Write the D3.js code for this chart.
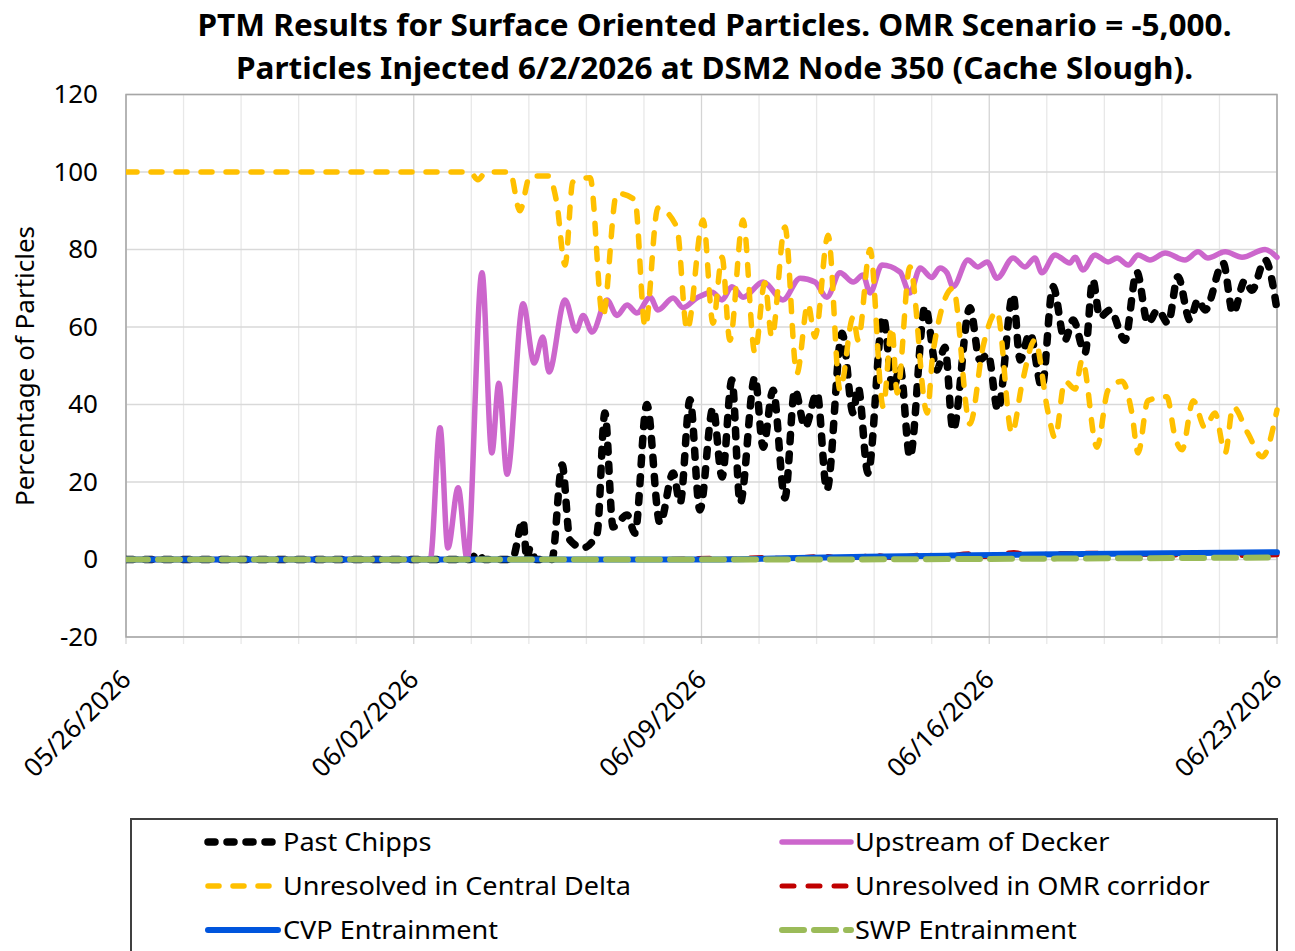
<!DOCTYPE html>
<html>
<head>
<meta charset="utf-8">
<script src="https://cdn.jsdelivr.net/npm/d3@7"></script>
<style>
  html, body { margin: 0; padding: 0; background: #fff; }
  svg { display: block; }
  text { font-family: "Noto Sans", "Open Sans", sans-serif; fill: #000; }
</style>
</head>
<body>
<svg id="chart" width="1295" height="951"></svg>
<script>
// ---------------- DATA ----------------
const titleLines = [
  "PTM Results for Surface Oriented Particles. OMR Scenario = -5,000.",
  "Particles Injected 6/2/2026 at DSM2 Node 350 (Cache Slough)."
];
const yAxisTitle = "Percentage of Particles";
const startDate = "2026-05-26";
const endDate = "2026-06-23";
const xTickLabels = ["05/26/2026", "06/02/2026", "06/09/2026", "06/16/2026", "06/23/2026"];
const yTicks = [-20, 0, 20, 40, 60, 80, 100, 120];
const seriesNames = ["Past Chipps", "Upstream of Decker", "Unresolved in Central Delta",
                     "Unresolved in OMR corridor", "CVP Entrainment", "SWP Entrainment"];

// [days since 05/26/2026 00:00, percentage of particles]
const pastChipps = [
  [0,0],[8.37,0],[8.56,1.7],[8.71,0],[9.39,0],[9.66,10],[9.75,0],[9.83,3],[9.97,0],[10.36,0],
  [10.61,24.4],[10.80,5],[11.12,3],[11.46,6.8],[11.65,37.8],[11.85,8.4],[12.19,11.5],[12.38,6.8],
  [12.67,40],[12.99,9.4],[13.31,22.3],[13.48,14.6],[13.72,41.2],[13.96,12.8],[14.28,39],[14.50,21.3],
  [14.74,46.3],[14.94,14.6],[15.30,47],[15.50,29],[15.74,43.7],[16.03,15.9],[16.27,43.7],[16.52,34.2],
  [16.81,43],[17.05,18],[17.42,58.4],[17.69,37.8],[17.81,44.5],[18.05,22.3],[18.42,62.6],[18.66,43.7],
  [18.83,49.7],[19.07,26.5],[19.44,65.2],[19.73,48.9],[19.92,54.8],[20.12,33.4],[20.53,65],[20.77,51.5],
  [20.97,53],[21.21,38.6],[21.58,68.3],[21.75,51.5],[21.99,58.4],[22.28,44.5],[22.55,70.4],[22.84,56.6],
  [23.04,61.8],[23.33,53.3],[23.52,72.1],[23.69,62.6],[23.94,64.4],[24.30,56.6],[24.59,74.2],[24.86,61],
  [25.10,64.4],[25.35,61],[25.59,73],[25.88,61.8],[26.08,67],[26.25,64.4],[26.69,76.5],[26.93,63.6],
  [27.22,72],[27.39,69.5],[27.71,77.3],[28.00,64.4]
];
const upstreamDecker = [
  [0,0],[7.40,0],[7.64,34],[7.83,3],[8.08,18.5],[8.30,0],[8.66,74],[8.90,27.5],[9.07,45.5],[9.27,22],
  [9.66,66],[9.93,50.7],[10.14,57.4],[10.29,48.4],[10.68,67],[10.95,59],[11.12,63],[11.34,58.7],
  [11.70,67],[11.94,63],[12.19,65.7],[12.43,63.6],[12.75,67.7],[12.94,64.4],[13.31,67.5],[13.55,65],
  [13.89,67.5],[14.26,69],[14.50,67],[14.74,70.4],[15.01,67.7],[15.50,71.6],[15.98,67],[16.40,72.6],
  [16.76,71.6],[17.05,67.7],[17.37,74],[17.69,71.6],[17.93,73.4],[18.10,68.8],[18.39,76],[18.83,74.2],
  [19.07,68.8],[19.32,75.2],[19.60,72.8],[19.80,75.2],[19.97,74],[20.12,70.4],[20.48,77.3],[20.72,75.5],
  [20.95,76.8],[21.19,72.6],[21.58,77.8],
  [21.87,75.5],[22.11,77.8],[22.28,74],[22.60,78.6],[22.96,76.5],[23.09,78],[23.28,74.7],[23.57,78.6],
  [23.89,76.8],[24.11,77.8],[24.38,76],[24.62,78.6],[24.91,77.3],[25.28,79.1],[25.76,77.3],[26.08,79.4],
  [26.32,77.8],[26.74,79.4],[27.15,78],[27.71,80],[28.00,78]
];
const centralDelta = [
  [0,100],[8.37,100],[8.56,98],[8.76,100],[9.34,100],[9.58,90],[9.83,99],[10.27,99],[10.48,92],
  [10.68,76],[10.87,97.4],[11.29,98.5],[11.60,62.6],[11.94,94.5],[12.38,92.8],[12.63,60],[12.94,90.7],
  [13.40,85.8],[13.65,59.2],[14.04,87.6],[14.28,61],[14.50,78],[14.69,56.6],[15.01,87.6],[15.30,53.3],
  [15.54,71.4],[15.71,57.4],[16.03,85.8],[16.32,48],[16.59,66],[16.76,57.4],[17.08,83.7],[17.37,43.7],
  [17.69,62.6],[17.81,56.6],[18.10,80],[18.42,39.4],[18.63,60],[18.76,43],[19.07,75.5],[19.49,37.8],
  [19.63,53.3],[20.12,70],[20.53,35],[20.85,55],[21.19,64],[21.55,32.6],[21.80,45.5],[22.11,56.6],
  [22.43,38],[22.60,31.4],[22.84,46],[23.09,44],[23.26,51.5],[23.62,29],[23.89,43.7],[24.23,46],
  [24.47,37.8],[24.62,27.5],[24.86,41],[25.32,42],[25.52,31.6],[25.69,28.3],[25.96,41],[26.25,34],
  [26.49,37.8],[26.74,27.5],[26.93,39.4],[27.29,32.6],[27.64,26.5],[28.00,38.6]
];
const omrCorridor = [
  [0,0],[13.0,0],[14.2,0.3],[14.5,0],[15.5,0.5],[16.0,0.2],[17.0,0.8],[17.4,0.3],[18.3,1.0],[18.6,0.5],
  [19.5,1.2],[19.8,0.6],[20.5,1.5],[20.9,0.8],[21.6,1.8],[22.0,1.0],[22.6,1.5],[23.5,1.6],[25.0,1.3],
  [26.5,1.0],[28.0,1.2]
];
const cvpEntrainment = [
  [0,0],[14,0],[16,0.3],[18,0.7],[20,1.0],[22,1.3],[24,1.5],[26,1.7],[28,1.9]
];
const swpEntrainment = [
  [0,0],[16,0],[20,0.1],[24,0.3],[28,0.5]
];

// ---------------- LAYOUT ----------------
const svg = d3.select("#chart");
svg.append("rect").attr("width", 1295).attr("height", 951).attr("fill", "#fff");

const plot = {left: 126, right: 1277, top: 94.5, bottom: 637};
const t0 = new Date(startDate + "T00:00:00");
const t1 = new Date(endDate + "T00:00:00");
const toDate = d => new Date(t0.getTime() + d * 86400000);

const x = d3.scaleTime().domain([t0, t1]).range([plot.left, plot.right]);
const y = d3.scaleLinear().domain([-20, 120]).range([plot.bottom, plot.top]);

// vertical gridlines every 1.4 days (20 intervals)
const vGrid = d3.range(0, 21).map(i => toDate(i * 1.4));
svg.append("g").selectAll("line").data(vGrid).join("line")
  .attr("x1", d => x(d)).attr("x2", d => x(d))
  .attr("y1", plot.top).attr("y2", plot.bottom + 7)
  .attr("stroke", (d, i) => i % 5 === 0 ? "#d4d4d4" : "#e8e8e8")
  .attr("stroke-width", 1.3);

// horizontal gridlines
svg.append("g").selectAll("line").data(yTicks).join("line")
  .attr("x1", plot.left).attr("x2", plot.right)
  .attr("y1", d => y(d)).attr("y2", d => y(d))
  .attr("stroke", "#d9d9d9").attr("stroke-width", 1.5);

// plot border
svg.append("rect")
  .attr("x", plot.left).attr("y", plot.top)
  .attr("width", plot.right - plot.left).attr("height", plot.bottom - plot.top)
  .attr("fill", "none").attr("stroke", "#a6a6a6").attr("stroke-width", 1.5);

// y axis
const yAxis = d3.axisLeft(y).tickValues(yTicks).tickSize(0).tickPadding(28).tickFormat(d => String(d));
const gy = svg.append("g").attr("transform", `translate(${plot.left},0)`).call(yAxis);
gy.select(".domain").remove();
gy.selectAll("text").style("font-size", "26px").style("font-family", '"Noto Sans", sans-serif').attr("fill", "#000");

// x axis labels
const xTickDates = xTickLabels.map(s => { const [m, d, yy] = s.split("/"); return new Date(`${yy}-${m}-${d}T00:00:00`); });
const xAxis = d3.axisBottom(x).tickValues(xTickDates).tickSize(0).tickFormat(d3.timeFormat("%m/%d/%Y"));
const gx = svg.append("g").attr("transform", `translate(0,${plot.bottom})`).call(xAxis);
gx.select(".domain").remove();
gx.selectAll("text")
  .style("font-size", "26px").style("font-family", '"Noto Sans", sans-serif').attr("fill", "#000")
  .attr("text-anchor", "end")
  .attr("dx", null).attr("dy", null).attr("y", null)
  .attr("transform", "translate(6,44) rotate(-45)");

// ---------------- SERIES ----------------
const line = d3.line()
  .x(d => x(toDate(d[0])))
  .y(d => y(d[1]))
  .curve(d3.curveMonotoneX);

const styles = [
  {data: pastChipps, color: "#000000", width: 7.5, dash: "7,12", cap: "round"},
  {data: upstreamDecker, color: "#CC66CC", width: 5.5, dash: null, cap: "round"},
  {data: centralDelta, color: "#FFC000", width: 5.5, dash: "11,14", cap: "round"},
  {data: omrCorridor, color: "#C00000", width: 5, dash: "12,14", cap: "round"},
  {data: cvpEntrainment, color: "#0055DD", width: 6, dash: null, cap: "round"},
  {data: swpEntrainment, color: "#9BBB59", width: 6, dash: "22,10", cap: "round"}
];

svg.append("clipPath").attr("id", "plotclip").append("rect")
  .attr("x", plot.left).attr("y", plot.top - 5)
  .attr("width", plot.right - plot.left + 4).attr("height", plot.bottom - plot.top + 5);

const gSeries = svg.append("g").attr("clip-path", "url(#plotclip)");
styles.forEach(s => {
  gSeries.append("path")
    .attr("d", line(s.data))
    .attr("fill", "none")
    .attr("stroke", s.color)
    .attr("stroke-width", s.width)
    .attr("stroke-dasharray", s.dash)
    .attr("stroke-linecap", s.cap)
    .attr("stroke-linejoin", "round");
});

// ---------------- TITLE ----------------
const titleTargetWidth = 1034;
const titleProbe = svg.append("text").style("font-size", "30px").style("font-weight", "bold")
  .attr("visibility", "hidden").text(titleLines[0]);
const titleScale = titleTargetWidth / titleProbe.node().getComputedTextLength();
titleProbe.remove();
titleLines.forEach((t, i) => {
  const el = svg.append("text")
    .attr("x", 714.5).attr("y", 36 + i * 43)
    .attr("text-anchor", "middle")
    .style("font-size", "30px").style("font-weight", "bold")
    .text(t);
  const w = el.node().getComputedTextLength();
  el.attr("textLength", w * titleScale).attr("lengthAdjust", "spacingAndGlyphs");
});

// y axis title
const yt = svg.append("text")
  .attr("transform", "translate(34,366) rotate(-90)")
  .attr("text-anchor", "middle")
  .style("font-size", "26px")
  .text(yAxisTitle);
const ytw = yt.node().getComputedTextLength();
yt.attr("textLength", Math.min(ytw, 288)).attr("lengthAdjust", "spacingAndGlyphs");

// ---------------- LEGEND ----------------
const legend = svg.append("g");
legend.append("rect")
  .attr("x", 131).attr("y", 819).attr("width", 1146).attr("height", 145)
  .attr("fill", "#fff").attr("stroke", "#404040").attr("stroke-width", 2);

const legCols = [{lx1: 208, lx2: 278, tx: 283}, {lx1: 782, lx2: 851, tx: 855}];
const legRows = [842, 886, 930];
const legendFontSize = 25;
const probe = svg.append("text").style("font-size", legendFontSize + "px").attr("visibility", "hidden").text(seriesNames[2]);
const legScale = 348 / probe.node().getComputedTextLength();
probe.remove();

seriesNames.forEach((name, i) => {
  const col = legCols[i % 2], row = legRows[Math.floor(i / 2)];
  const s = styles[i];
  legend.append("line")
    .attr("x1", col.lx1).attr("x2", col.lx2).attr("y1", row).attr("y2", row)
    .attr("stroke", s.color).attr("stroke-width", s.width)
    .attr("stroke-dasharray", s.dash).attr("stroke-linecap", s.cap);
  const tEl = legend.append("text")
    .attr("x", col.tx).attr("y", row).attr("dy", "0.35em")
    .style("font-size", legendFontSize + "px")
    .text(name);
  const w = tEl.node().getComputedTextLength();
  tEl.attr("textLength", w * legScale).attr("lengthAdjust", "spacingAndGlyphs");
});
</script>
</body>
</html>
